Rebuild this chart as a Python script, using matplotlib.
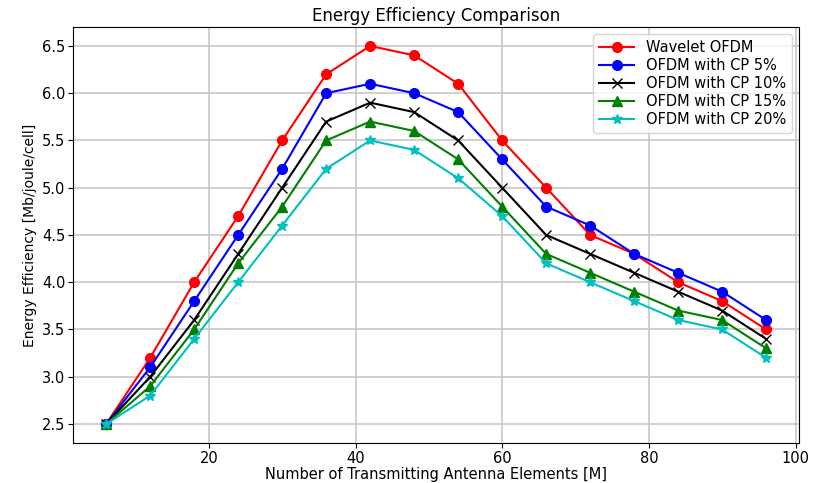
import numpy as np
import matplotlib
matplotlib.use("Agg")
import matplotlib.pyplot as plt

# Number of transmitting antenna elements
antennas = [6, 12, 18, 24, 30, 36, 42, 48, 54, 60, 66, 72, 78, 84, 90, 96]

# Energy efficiency [Mb/joule/cell]
wavelet_ofdm = [2.5, 3.2, 4.0, 4.7, 5.5, 6.2, 6.5, 6.4, 6.1, 5.5, 5.0, 4.5, 4.3, 4.0, 3.8, 3.5]
ofdm_cp5 = [2.5, 3.1, 3.8, 4.5, 5.2, 6.0, 6.1, 6.0, 5.8, 5.3, 4.8, 4.6, 4.3, 4.1, 3.9, 3.6]
ofdm_cp10 = [2.5, 3.0, 3.6, 4.3, 5.0, 5.7, 5.9, 5.8, 5.5, 5.0, 4.5, 4.3, 4.1, 3.9, 3.7, 3.4]
ofdm_cp15 = [2.5, 2.9, 3.5, 4.2, 4.8, 5.5, 5.7, 5.6, 5.3, 4.8, 4.3, 4.1, 3.9, 3.7, 3.6, 3.3]
ofdm_cp20 = [2.5, 2.8, 3.4, 4.0, 4.6, 5.2, 5.5, 5.4, 5.1, 4.7, 4.2, 4.0, 3.8, 3.6, 3.5, 3.2]

fig = plt.figure(figsize=(8.13, 4.83), dpi=100)
ax = fig.add_axes([0.09, 0.083, 0.893, 0.861])

ax.plot(antennas, wavelet_ofdm, "r-o", markersize=7, label="Wavelet OFDM")
ax.plot(antennas, ofdm_cp5, "b-o", markersize=7, label="OFDM with CP 5%")
ax.plot(antennas, ofdm_cp10, "k-x", markersize=7, label="OFDM with CP 10%")
ax.plot(antennas, ofdm_cp15, "g-^", markersize=7, label="OFDM with CP 15%")
ax.plot(antennas, ofdm_cp20, "c-*", markersize=7, label="OFDM with CP 20%")

ax.set_xlabel("Number of Transmitting Antenna Elements [M]", fontsize=10.5, labelpad=1)
ax.set_ylabel("Energy Efficiency [Mb/joule/cell]", fontsize=10)
ax.set_title("Energy Efficiency Comparison", fontsize=12, pad=4)
ax.tick_params(labelsize=10.5, pad=2)
ax.legend(fontsize=10.5, loc="upper right", labelspacing=0.2, handlelength=2.4)
ax.grid(True, color="#c8c8c8", linewidth=1.2)

fig.savefig("out.png", dpi=100)
